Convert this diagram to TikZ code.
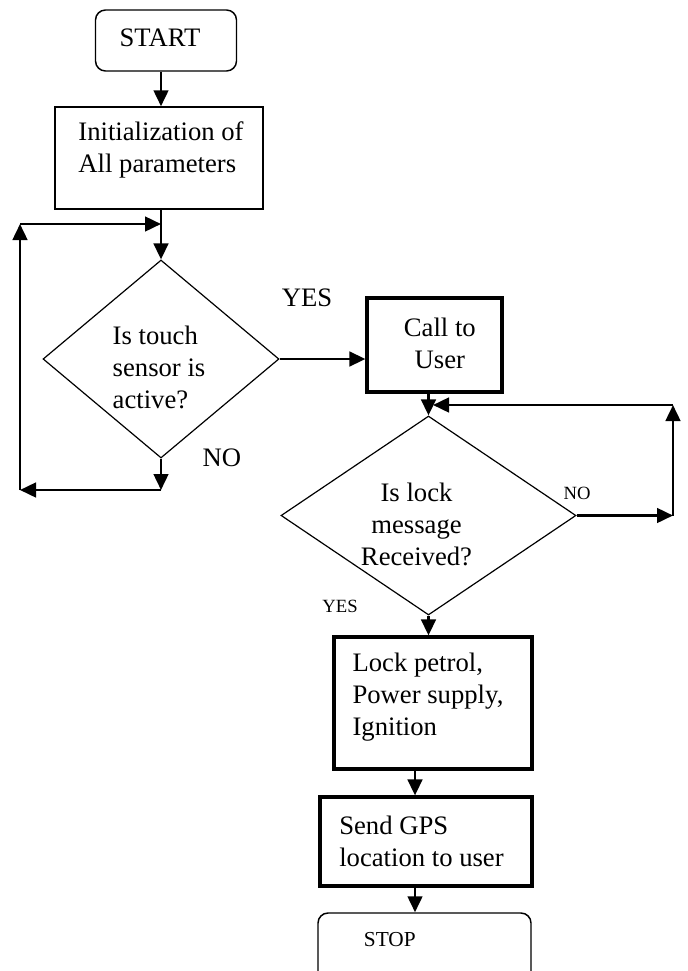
\documentclass[tikz,border=0pt]{standalone}
\usepackage{fontspec}
\setmainfont{Liberation Serif}
\usetikzlibrary{shapes.geometric,arrows.meta}
\begin{document}
\begin{tikzpicture}[x=0.75pt,y=-0.75pt,
  big/.style={font=\fontsize{20}{24}\selectfont},
  small/.style={font=\fontsize{14}{16}\selectfont},
  stopfont/.style={font=\fontsize{16}{18}\selectfont},
  term/.style={draw,line width=1.1pt,rounded corners=7.5pt,inner sep=0pt},
  thinbox/.style={draw,line width=1.1pt,inner sep=0pt},
  thickbox/.style={draw,line width=2.4pt,inner sep=0pt},
  decision/.style={draw,diamond,line width=0.9pt,inner sep=0pt},
  arr/.style={line width=1.9pt,-{Triangle[length=12pt,width=11pt]}},
]
\useasboundingbox (0,0) rectangle (687,971);

\node[term,minimum width=105.75pt,minimum height=45.75pt,
  label={[big,xshift=-4.5pt,yshift=2pt]center:START}] (start) at (166,40.5) {};
\node[thinbox,minimum width=156pt,minimum height=76.5pt,
  label={[big,align=left,xshift=1.5pt,yshift=6pt]center:{Initialization of\\All parameters}}] (init) at (159,158) {};
\node[decision,minimum width=177pt,minimum height=148.5pt,
  label={[big,align=left,xshift=-1.5pt,yshift=-6pt]center:{Is touch\\sensor is\\active?}}] (d1) at (161,359) {};
\node[thickbox,minimum width=101.25pt,minimum height=70.5pt,
  label={[big,align=center,xshift=4pt,yshift=1.5pt]center:{Call to\\User}}] (call) at (434.5,345) {};
\node[decision,minimum width=221.25pt,minimum height=149.25pt,
  label={[big,align=center,xshift=-9pt,yshift=-7pt]center:{Is lock\\message\\Received?}}] (d2) at (428.5,515.5) {};
\node[thickbox,minimum width=148.5pt,minimum height=99pt,
  label={[big,align=left,xshift=-3.75pt,yshift=4.5pt]center:{Lock petrol,\\Power supply,\\Ignition}}] (lock) at (433,703) {};
\node[thickbox,minimum width=159pt,minimum height=66.75pt,
  label={[big,align=left,xshift=-3.4pt]center:{Send GPS\\location to user}}] (gps) at (426,841.5) {};
\node[term,minimum width=159.75pt,minimum height=60pt,
  label={[stopfont,xshift=-26pt,yshift=9.75pt]center:STOP}] (stop) at (424.5,953) {};

\node[big] (yes1) at (307,298) {YES};
\node[big] (no1) at (222,458) {NO};
\node[small] (no2) at (577,493) {NO};
\node[small] (yes2) at (340,606) {YES};

\coordinate (n1) at (161,490);
\coordinate (l1) at (20,490);
\coordinate (l2) at (20,224);
\coordinate (l3) at (161,224);
\coordinate (r1) at (673,515.5);
\coordinate (r2) at (673,405);
\coordinate (r3) at (433,405);
\coordinate (ax) at (415,0);

\draw[arr] (start.south -| d1.north) -- (init.north -| d1.north);
\draw[arr] (init.south -| d1.north) -- (d1.north);
\draw[arr] (d1.south) -- (n1);
\draw[arr] (n1) -- (l1);
\draw[arr] (l1) -- (l2);
\draw[arr] (l2) -- (l3);
\draw[arr] (d1.east) -- (call.west |- d1.east);
\draw[arr] (call.south -| d2.north) -- (d2.north);
\draw[arr] (d2.east) -- (r1);
\draw[arr] (r1) -- (r2);
\draw[arr] (r2) -- (r3);
\draw[arr] (d2.south) -- (lock.north -| d2.south);
\draw[arr] (lock.south -| ax) -- (gps.north -| ax);
\draw[arr] (gps.south -| ax) -- (stop.north -| ax);
\end{tikzpicture}
\end{document}
